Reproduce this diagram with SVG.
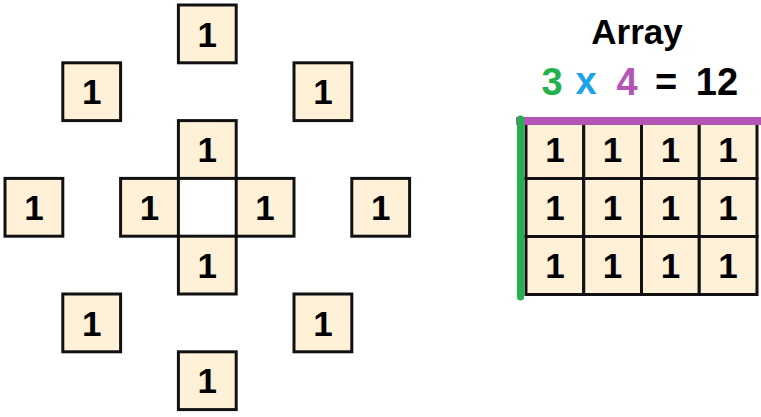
<svg xmlns="http://www.w3.org/2000/svg" width="761" height="417" viewBox="0 0 761 417">
<style>
.cell{fill:#fff0d8;stroke:#111;stroke-width:3}
.one{font-family:"Liberation Sans",Arial,sans-serif;font-weight:bold;font-size:35px;fill:#000;text-anchor:middle}
.t{font-family:"Liberation Sans",Arial,sans-serif;font-weight:bold;text-anchor:middle}
</style>
<rect width="761" height="417" fill="#fff"/>
<g id="box-top"><rect class="cell" x="178.4" y="5" width="57.8" height="57.8"/><text class="one" x="207.3" y="46.5">1</text></g>
<g id="box-upper-left"><rect class="cell" x="62.8" y="62.8" width="57.8" height="57.8"/><text class="one" x="91.7" y="104.3">1</text></g>
<g id="box-upper-right"><rect class="cell" x="294" y="62.8" width="57.8" height="57.8"/><text class="one" x="322.9" y="104.3">1</text></g>
<g id="box-inner-top"><rect class="cell" x="178.4" y="120.6" width="57.8" height="57.8"/><text class="one" x="207.3" y="162.1">1</text></g>
<g id="box-far-left"><rect class="cell" x="5" y="178.4" width="57.8" height="57.8"/><text class="one" x="33.9" y="219.9">1</text></g>
<g id="box-inner-left"><rect class="cell" x="120.6" y="178.4" width="57.8" height="57.8"/><text class="one" x="149.5" y="219.9">1</text></g>
<g id="box-inner-right"><rect class="cell" x="236.2" y="178.4" width="57.8" height="57.8"/><text class="one" x="265.1" y="219.9">1</text></g>
<g id="box-far-right"><rect class="cell" x="351.8" y="178.4" width="57.8" height="57.8"/><text class="one" x="380.7" y="219.9">1</text></g>
<g id="box-inner-bottom"><rect class="cell" x="178.4" y="236.2" width="57.8" height="57.8"/><text class="one" x="207.3" y="277.7">1</text></g>
<g id="box-lower-left"><rect class="cell" x="62.8" y="294" width="57.8" height="57.8"/><text class="one" x="91.7" y="335.5">1</text></g>
<g id="box-lower-right"><rect class="cell" x="294" y="294" width="57.8" height="57.8"/><text class="one" x="322.9" y="335.5">1</text></g>
<g id="box-bottom"><rect class="cell" x="178.4" y="351.8" width="57.8" height="57.8"/><text class="one" x="207.3" y="393.3">1</text></g>

<g id="title">
<text class="t" x="637" y="44" font-size="35" fill="#000">Array</text>
</g>
<g id="equation" font-size="38">
<text class="t" x="552" y="95" font-size="38" fill="#22b14c">3</text>
<text class="t" x="586" y="94" font-size="38" fill="#1aa3e8">x</text>
<text class="t" x="627" y="95" font-size="38" fill="#b455b6">4</text>
<text class="t" x="666" y="95" font-size="38" fill="#000">=</text>
<text class="t" x="717" y="95" font-size="38" fill="#000">12</text>
</g>

<g id="array">
<g id="r1">
<rect class="cell" x="526" y="120.5" width="57.75" height="58"/><text class="one" x="554.9" y="162">1</text>
<rect class="cell" x="583.75" y="120.5" width="57.75" height="58"/><text class="one" x="612.6" y="162">1</text>
<rect class="cell" x="641.5" y="120.5" width="57.75" height="58"/><text class="one" x="670.4" y="162">1</text>
<rect class="cell" x="699.25" y="120.5" width="57.75" height="58"/><text class="one" x="728.1" y="162">1</text>
</g>
<g id="r2">
<rect class="cell" x="526" y="178.5" width="57.75" height="58"/><text class="one" x="554.9" y="220">1</text>
<rect class="cell" x="583.75" y="178.5" width="57.75" height="58"/><text class="one" x="612.6" y="220">1</text>
<rect class="cell" x="641.5" y="178.5" width="57.75" height="58"/><text class="one" x="670.4" y="220">1</text>
<rect class="cell" x="699.25" y="178.5" width="57.75" height="58"/><text class="one" x="728.1" y="220">1</text>
</g>
<g id="r3">
<rect class="cell" x="526" y="236.5" width="57.75" height="58"/><text class="one" x="554.9" y="278">1</text>
<rect class="cell" x="583.75" y="236.5" width="57.75" height="58"/><text class="one" x="612.6" y="278">1</text>
<rect class="cell" x="641.5" y="236.5" width="57.75" height="58"/><text class="one" x="670.4" y="278">1</text>
<rect class="cell" x="699.25" y="236.5" width="57.75" height="58"/><text class="one" x="728.1" y="278">1</text>
</g>
<line id="columns-bar" x1="516" y1="121" x2="761" y2="121" stroke="#b455b6" stroke-width="8"/>
<line id="rows-bar" x1="520.5" y1="119" x2="520.5" y2="297" stroke="#22b14c" stroke-width="7" stroke-linecap="round"/>
</g>
</svg>
